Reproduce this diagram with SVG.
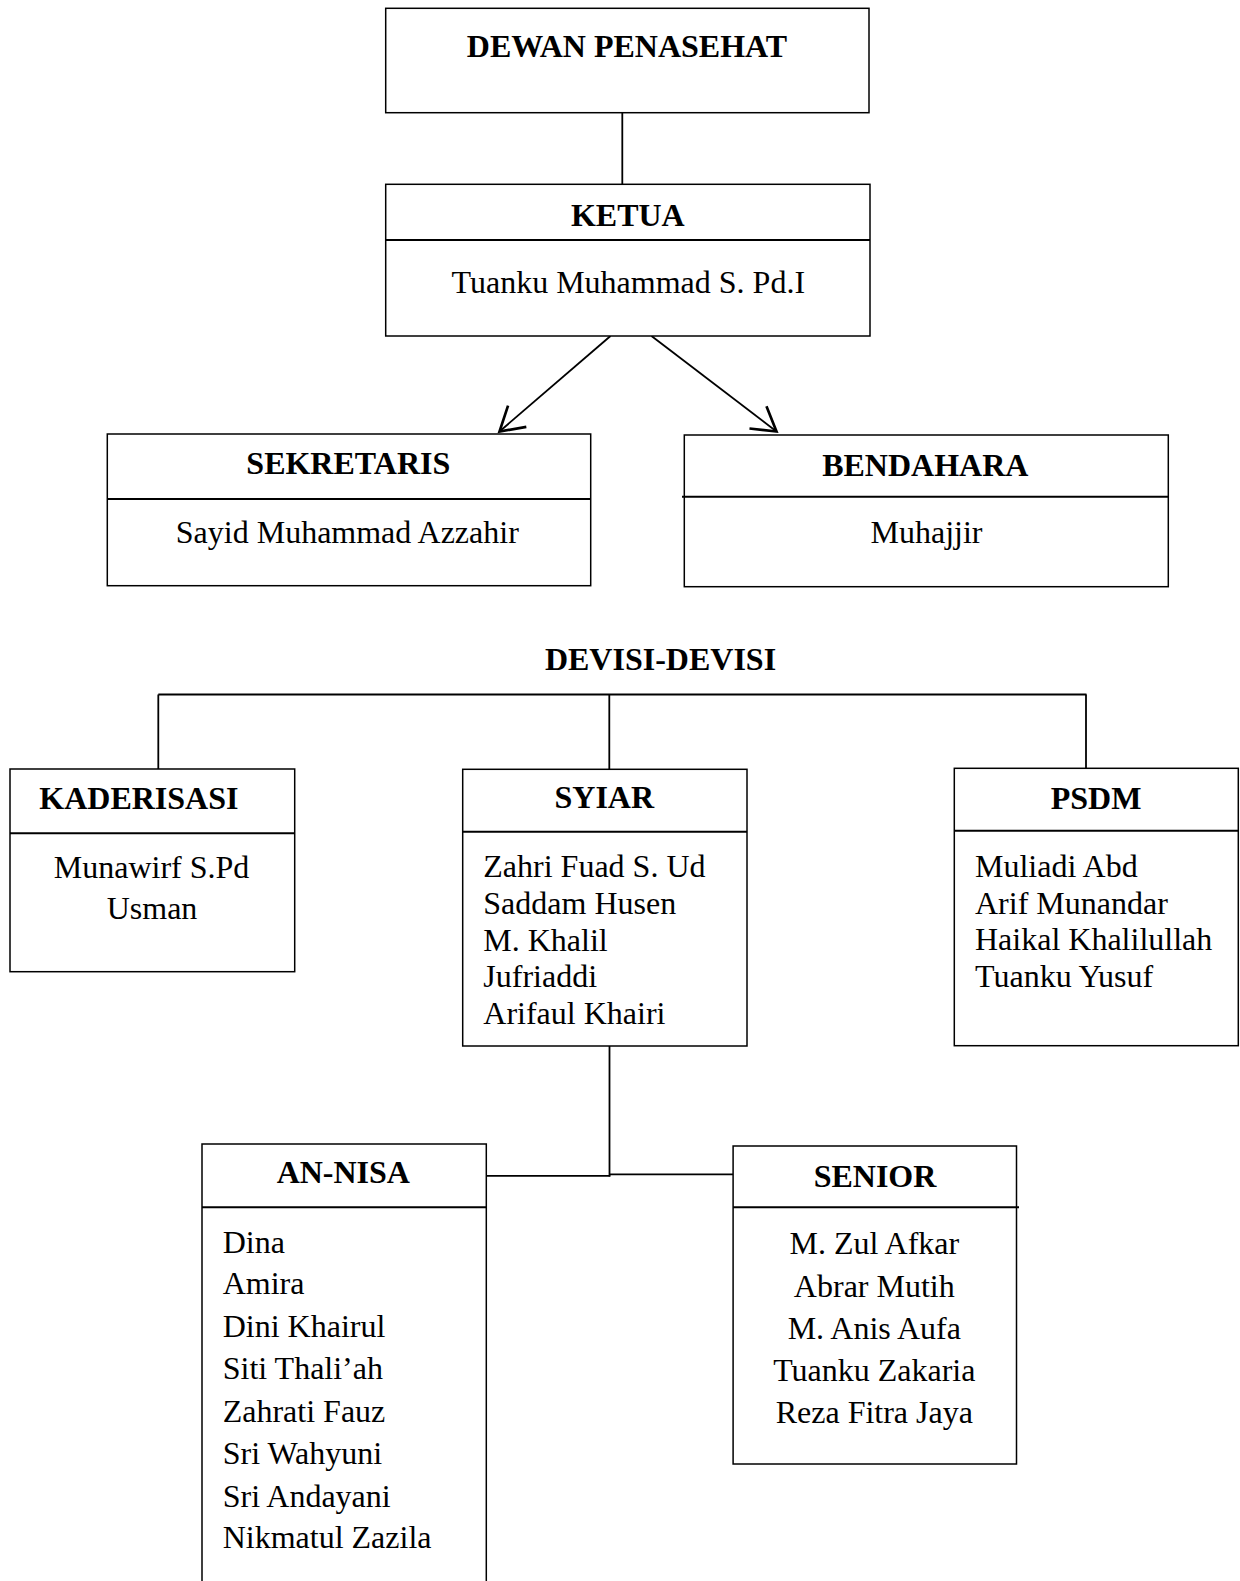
<svg xmlns="http://www.w3.org/2000/svg" width="1240" height="1581" viewBox="0 0 1240 1581">
<style>
  .box { fill: #fff; stroke: #000; stroke-width: 1.5; }
  .div { stroke: #000; stroke-width: 2; fill: none; }
  .con { stroke: #000; stroke-width: 1.8; fill: none; }
  .h { font-family: "Liberation Serif", "Times New Roman", serif; font-weight: bold; font-size: 32px; fill: #000; }
  .t { font-family: "Liberation Serif", "Times New Roman", serif; font-size: 32px; fill: #000; }
  .c { text-anchor: middle; }
</style>
<defs>
  <marker id="arrow" markerUnits="userSpaceOnUse" markerWidth="40" markerHeight="40" refX="0" refY="0" viewBox="-25 -15 30 30" orient="auto" overflow="visible">
    <path d="M -17.5 -10.5 L 0 0 L -17.5 10.5" fill="none" stroke="#000" stroke-width="2"/>
  </marker>
</defs>
<rect width="1240" height="1581" fill="#fff"/>

<g id="connectors">
  <line class="con" x1="622.3" y1="112.7" x2="622.3" y2="184.3"/>
  <line class="con" x1="610.5" y1="336" x2="499.5" y2="431.5" marker-end="url(#arrow)"/>
  <line class="con" x1="651.5" y1="336" x2="776.5" y2="431.5" marker-end="url(#arrow)"/>
  <line class="con" x1="158.3" y1="694.5" x2="1086.5" y2="694.5" stroke-width="2.3"/>
  <line class="con" x1="158.3" y1="694.5" x2="158.3" y2="769"/>
  <line class="con" x1="609.3" y1="694.5" x2="609.3" y2="769.3"/>
  <line class="con" x1="1086" y1="694.5" x2="1086" y2="768.3"/>
  <line class="con" x1="609.5" y1="1046" x2="609.5" y2="1176.5"/>
  <line class="con" x1="486.3" y1="1175.8" x2="610.3" y2="1175.8"/>
  <line class="con" x1="609.5" y1="1174.3" x2="733" y2="1174.3"/>
</g>

<g id="dewan-penasehat">
  <rect class="box" x="385.7" y="8.3" width="483.3" height="104.4"/>
  <text class="h c" x="627" y="56.7">DEWAN PENASEHAT</text>
</g>

<g id="ketua">
  <rect class="box" x="385.7" y="184.3" width="484.3" height="151.7"/>
  <line class="div" x1="385.7" y1="240" x2="870" y2="240"/>
  <text class="h c" x="627.8" y="225.7">KETUA</text>
  <text class="t c" x="628.3" y="293">Tuanku Muhammad S. Pd.I</text>
</g>

<g id="sekretaris">
  <rect class="box" x="107.3" y="434" width="483.4" height="151.7"/>
  <line class="div" x1="107.3" y1="499" x2="590.7" y2="499"/>
  <text class="h c" x="348.3" y="474">SEKRETARIS</text>
  <text class="t c" x="347.3" y="542.7">Sayid Muhammad Azzahir</text>
</g>

<g id="bendahara">
  <rect class="box" x="684.3" y="435" width="484" height="151.7"/>
  <line class="div" x1="682" y1="496.7" x2="1168.3" y2="496.7"/>
  <text class="h c" x="925.3" y="475.7">BENDAHARA</text>
  <text class="t c" x="926.5" y="543.3">Muhajjir</text>
</g>

<g id="devisi-devisi">
  <text class="h c" x="660.5" y="670">DEVISI-DEVISI</text>
</g>

<g id="kaderisasi">
  <rect class="box" x="10" y="769" width="284.7" height="202.7"/>
  <line class="div" x1="10" y1="833.3" x2="294.7" y2="833.3"/>
  <text class="h" x="39.3" y="809.3">KADERISASI</text>
  <text class="t c" x="151.5" y="878.3">Munawirf S.Pd</text>
  <text class="t c" x="152" y="919.3">Usman</text>
</g>

<g id="syiar">
  <rect class="box" x="462.7" y="769.3" width="284.3" height="276.7"/>
  <line class="div" x1="462.7" y1="831.7" x2="747" y2="831.7"/>
  <text class="h c" x="604.3" y="808.3">SYIAR</text>
  <text class="t" x="483.3" y="877.3">Zahri Fuad S. Ud</text>
  <text class="t" x="483.3" y="914.3">Saddam Husen</text>
  <text class="t" x="483.3" y="950.7">M. Khalil</text>
  <text class="t" x="483.3" y="987.3">Jufriaddi</text>
  <text class="t" x="483.3" y="1024">Arifaul Khairi</text>
</g>

<g id="psdm">
  <rect class="box" x="954.3" y="768.3" width="284" height="277.4"/>
  <line class="div" x1="954.3" y1="830.7" x2="1238.3" y2="830.7"/>
  <text class="h c" x="1096" y="809.3">PSDM</text>
  <text class="t" x="975" y="876.7">Muliadi Abd</text>
  <text class="t" x="975" y="914">Arif Munandar</text>
  <text class="t" x="975" y="950">Haikal Khalilullah</text>
  <text class="t" x="975" y="987.3">Tuanku Yusuf</text>
</g>

<g id="an-nisa">
  <rect class="box" x="202" y="1144" width="284.3" height="460"/>
  <line class="div" x1="202" y1="1207.3" x2="486.3" y2="1207.3"/>
  <text class="h c" x="343.3" y="1183.3">AN-NISA</text>
  <text class="t" x="222.7" y="1252.7">Dina</text>
  <text class="t" x="222.7" y="1294.3">Amira</text>
  <text class="t" x="222.7" y="1337.3">Dini Khairul</text>
  <text class="t" x="222.7" y="1379.3">Siti Thali’ah</text>
  <text class="t" x="222.7" y="1421.7">Zahrati Fauz</text>
  <text class="t" x="222.7" y="1464">Sri Wahyuni</text>
  <text class="t" x="222.7" y="1506.7">Sri Andayani</text>
  <text class="t" x="222.7" y="1547.7">Nikmatul Zazila</text>
</g>

<g id="senior">
  <rect class="box" x="733.1" y="1146" width="283.4" height="318"/>
  <line class="div" x1="733.1" y1="1207.3" x2="1019" y2="1207.3"/>
  <text class="h c" x="875" y="1186.7">SENIOR</text>
  <text class="t c" x="874.3" y="1254.3">M. Zul Afkar</text>
  <text class="t c" x="874.3" y="1296.7">Abrar Mutih</text>
  <text class="t c" x="874.3" y="1339">M. Anis Aufa</text>
  <text class="t c" x="874.3" y="1380.7">Tuanku Zakaria</text>
  <text class="t c" x="874.3" y="1423.3">Reza Fitra Jaya</text>
</g>
</svg>
